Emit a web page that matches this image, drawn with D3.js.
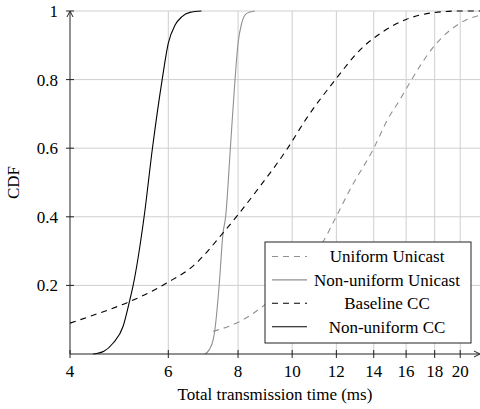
<!DOCTYPE html>
<meta charset="utf-8">
<script src="https://cdn.jsdelivr.net/npm/d3@7"></script>
<style>
body { margin: 0; background: #fff; }
text { font-family: "Liberation Serif", "Times New Roman", serif; fill: #000; }
.grid line { stroke: #cfcfcf; stroke-width: 1px; }
path.curve { fill: none; }
</style>
<body>
<script>

// x ticks (ms) and y ticks (CDF)
var xTicks = [4, 6, 8, 10, 12, 14, 16, 18, 20];
var yTicks = [0.2, 0.4, 0.6, 0.8, 1];

// Uniform Unicast (gray dashed)
var uniUnicastX = [7.22, 8.06, 8.94, 9.6, 10.3, 10.9, 11.36, 11.98, 12.69, 14.0, 14.86, 15.59, 16.03, 18.01, 19.96, 21.7];
var uniUnicastY = [0.066, 0.095, 0.144, 0.19, 0.245, 0.29, 0.328, 0.399, 0.479, 0.6, 0.687, 0.741, 0.775, 0.9, 0.964, 0.988];

// Non-uniform Unicast (gray solid)
var nuUnicastX = [6.98, 7.1, 7.22, 7.27, 7.40, 7.52, 7.60, 7.75, 7.90, 8.00, 8.12, 8.29, 8.57];
var nuUnicastY = [0, 0.012, 0.042, 0.07, 0.2, 0.353, 0.4, 0.6, 0.8, 0.906, 0.964, 0.993, 1];

// Baseline CC (black dashed)
var baselineX = [4.0, 4.40, 5.05, 5.64, 5.96, 6.65, 7.52, 8.00, 8.75, 9.77, 10.61, 11.98, 13.22, 14.55, 16.03, 17.88, 19.96, 21.7];
var baselineY = [0.09, 0.113, 0.149, 0.185, 0.207, 0.257, 0.353, 0.406, 0.488, 0.595, 0.687, 0.802, 0.886, 0.94, 0.976, 0.995, 1, 1];

// Non-uniform CC (black solid)
var nuCCX = [4.40, 4.60, 4.78, 4.98, 5.12, 5.19, 5.43, 5.62, 5.85, 6.0, 6.17, 6.34, 6.56, 6.88];
var nuCCY = [0, 0.008, 0.032, 0.081, 0.158, 0.2, 0.4, 0.6, 0.8, 0.906, 0.959, 0.983, 0.996, 1];

var series = [
  {name: "Uniform Unicast", xs: uniUnicastX, ys: uniUnicastY, color: "#909090", dash: "6,5"},
  {name: "Non-uniform Unicast", xs: nuUnicastX, ys: nuUnicastY, color: "#909090", dash: null},
  {name: "Baseline CC", xs: baselineX, ys: baselineY, color: "#000", dash: "6,5"},
  {name: "Non-uniform CC", xs: nuCCX, ys: nuCCY, color: "#000", dash: null}
];

var width = 480, height = 409;
var mLeft = 70, mRight = 480, mTop = 11, mBottom = 354;

var x = d3.scaleLog().domain([4, 21.7]).range([mLeft, mRight]);
var y = d3.scaleLinear().domain([0, 1]).range([mBottom, mTop]);

var svg = d3.select("body").append("svg")
    .attr("width", width)
    .attr("height", height);

// grid
var grid = svg.append("g").attr("class", "grid");
grid.selectAll("line.v")
    .data(xTicks.slice(1))
    .enter().append("line")
    .attr("x1", function(d) { return x(d); })
    .attr("x2", function(d) { return x(d); })
    .attr("y1", mBottom).attr("y2", mTop);
grid.selectAll("line.h")
    .data(yTicks)
    .enter().append("line")
    .attr("x1", mLeft).attr("x2", mRight)
    .attr("y1", function(d) { return y(d); })
    .attr("y2", function(d) { return y(d); });

// curves
var line = d3.line()
    .x(function(d) { return x(d[0]); })
    .y(function(d) { return y(d[1]); })
    .curve(d3.curveMonotoneX);

svg.append("g").selectAll("path")
    .data(series)
    .enter().append("path")
    .attr("class", "curve")
    .attr("d", function(s) { return line(d3.zip(s.xs, s.ys)); })
    .style("stroke", function(s) { return s.color; })
    .style("stroke-width", "1.1px")
    .style("stroke-dasharray", function(s) { return s.dash; });

// axes
var axes = svg.append("g").style("stroke", "#222").style("stroke-width", "1px");
axes.append("line").attr("x1", mLeft).attr("x2", mRight - 1).attr("y1", mBottom).attr("y2", mBottom);
axes.append("line").attr("x1", mLeft).attr("x2", mLeft).attr("y1", mBottom).attr("y2", mTop + 1);
axes.selectAll("line.xt")
    .data(xTicks)
    .enter().append("line")
    .attr("x1", function(d) { return x(d); })
    .attr("x2", function(d) { return x(d); })
    .attr("y1", mBottom - 4).attr("y2", mBottom + 4);
axes.selectAll("line.yt")
    .data(yTicks)
    .enter().append("line")
    .attr("x1", mLeft - 4).attr("x2", mLeft + 4)
    .attr("y1", function(d) { return y(d); })
    .attr("y2", function(d) { return y(d); });

// arrow heads
svg.append("path")
    .attr("d", "M" + (mLeft - 3) + "," + (mTop + 6) + " L" + mLeft + "," + mTop + " L" + (mLeft + 3) + "," + (mTop + 6))
    .style("fill", "none").style("stroke", "#222").style("stroke-width", "1px");
svg.append("path")
    .attr("d", "M" + (mRight - 6) + "," + (mBottom - 3) + " L" + mRight + "," + mBottom + " L" + (mRight - 6) + "," + (mBottom + 3))
    .style("fill", "none").style("stroke", "#222").style("stroke-width", "1px");

// tick labels
svg.append("g").selectAll("text")
    .data(xTicks)
    .enter().append("text")
    .attr("x", function(d) { return x(d); })
    .attr("y", mBottom + 23)
    .attr("text-anchor", "middle")
    .style("font-size", "17px")
    .text(function(d) { return d; });

svg.append("g").selectAll("text")
    .data(yTicks)
    .enter().append("text")
    .attr("x", mLeft - 12)
    .attr("y", function(d) { return y(d); })
    .attr("dy", "0.35em")
    .attr("text-anchor", "end")
    .style("font-size", "17px")
    .text(function(d) { return d; });

svg.append("text")
    .attr("x", (mLeft + mRight) / 2)
    .attr("y", 400)
    .attr("text-anchor", "middle")
    .style("font-size", "17px")
    .text("Total transmission time (ms)");

svg.append("text")
    .attr("transform", "translate(19," + ((mTop + mBottom) / 2) + ") rotate(-90)")
    .attr("text-anchor", "middle")
    .style("font-size", "17px")
    .text("CDF");

// legend
var legend = svg.append("g").attr("transform", "translate(265,242)");
legend.append("rect")
    .attr("width", 206).attr("height", 101)
    .style("fill", "#fff").style("stroke", "#222").style("stroke-width", "1px");
var item = legend.selectAll("g.item")
    .data(series)
    .enter().append("g")
    .attr("transform", function(d, i) { return "translate(0," + (14.5 + i * 23.4) + ")"; });
item.append("line")
    .attr("x1", 7).attr("x2", 42).attr("y1", 0).attr("y2", 0)
    .style("stroke", function(s) { return s.color; })
    .style("stroke-width", "1.1px")
    .style("stroke-dasharray", function(s) { return s.dash; });
item.append("text")
    .attr("x", 122)
    .attr("dy", "0.35em")
    .attr("text-anchor", "middle")
    .style("font-size", "17px")
    .text(function(s) { return s.name; });

</script>
</body>
